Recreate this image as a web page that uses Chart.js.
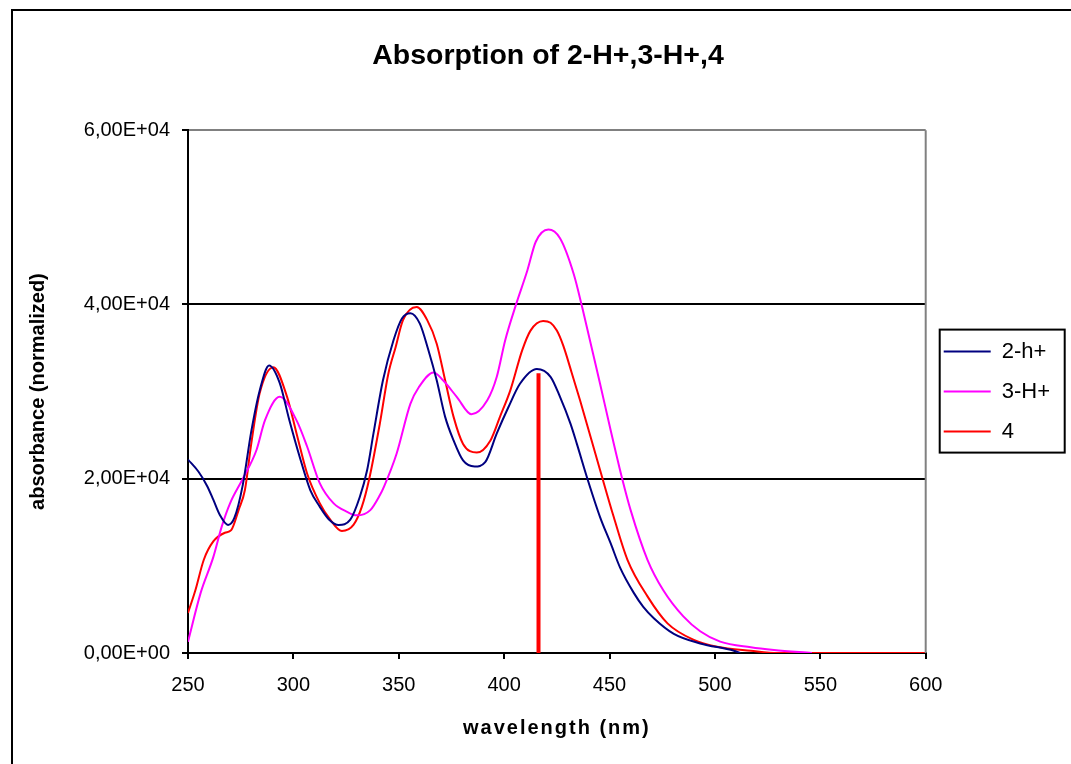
<!DOCTYPE html>
<html>
<head>
<meta charset="utf-8">
<script src="https://cdn.jsdelivr.net/npm/chart.js@4.4.1/dist/chart.umd.min.js"></script>
<style>
  html, body { margin: 0; padding: 0; background: #fff; }
  #wrap { width: 1071px; height: 764px; position: relative; }
</style>
</head>
<body>
<div id="wrap"><canvas id="absChart"></canvas></div>
<script>
// wavelength (nm) / absorbance
const wl2h = [250, 255, 259, 262, 265, 269, 272, 276, 280, 284,
  288.5, 293.5, 298, 303, 308, 312.5, 317, 321.5, 327, 331.5,
  335, 338, 342.5, 347.5, 351.5, 355.5, 360, 364, 368, 372,
  376, 380.5, 386, 391, 396.5, 402, 407.5, 415.5, 422, 426.5,
  431.5, 434.5, 439.5, 445.5, 450.5, 455, 461.5, 466, 471, 480.5,
  493, 509, 512];
const abs2h = [22200, 20800, 19200, 17600, 15900, 14700, 15500, 19300, 25400, 30100,
  33000, 31000, 26800, 22500, 18700, 16800, 15300, 14700, 15300, 17900,
  21000, 25200, 31300, 35900, 38400, 39000, 37800, 34800, 31300, 27100,
  24400, 22100, 21400, 21900, 25200, 28200, 30900, 32600, 31700, 29400,
  26300, 24000, 20000, 15600, 12600, 9800, 6900, 5300, 4000, 2200,
  1100, 260, 0];

const wl3h = [250, 256, 262, 266, 270, 276, 282.5, 286.5, 293.5, 301.5,
  306.5, 312.5, 319, 325.5, 330, 336.5, 341, 343, 349, 355.5,
  359.5, 366.5, 371, 377.5, 384.5, 392, 396.5, 400.5, 405.5, 411,
  415, 421, 426.5, 433, 437, 445.5, 450.5, 456, 460, 468,
  475.5, 485, 493, 502.5, 517, 528, 546];
const abs3h = [1300, 6900, 11000, 14500, 17200, 20000, 23300, 26700, 29400, 26700,
  23700, 19500, 17200, 16200, 15800, 16400, 18100, 19100, 22900, 28600,
  30500, 32200, 31300, 29400, 27400, 29000, 31700, 35900, 39900, 43900,
  47200, 48600, 47600, 43500, 39700, 30900, 25600, 20000, 16400, 10700,
  7200, 4200, 2500, 1300, 650, 340, 0];

const wl4 = [250, 253.5, 257.5, 262, 267.5, 270.5, 274, 277, 280, 284,
  290.5, 297, 301.5, 306.5, 312.5, 317.5, 323, 328.5, 332.5, 336,
  341, 345, 348.5, 352, 358.5, 363.5, 368, 372, 376, 380.5,
  387, 393.5, 398, 403, 408.5, 412.5, 418.5, 422, 425, 428,
  432, 436, 445.5, 452, 458.5, 468, 477.5, 490, 501, 517,
  530, 600];
const abs4 = [4600, 7200, 10700, 12800, 13800, 14100, 16400, 18700, 24000, 29800,
  32800, 29400, 25200, 20600, 17200, 15300, 14000, 14700, 16800, 20000,
  26300, 32000, 35100, 38200, 39700, 38200, 35500, 31300, 27100, 24000,
  23000, 24400, 27100, 30200, 34700, 37000, 38100, 37900, 37000, 35300,
  32200, 29000, 21000, 15600, 10700, 6500, 3400, 1500, 720, 260,
  0, 0];

// red marker line
const markWl = [416.3, 416.3];
const markAbs = [0, 32100];

const seriesNames = ["2-h+", "3-H+", "4"];
const yTickLabels = ["0,00E+00", "2,00E+04", "4,00E+04", "6,00E+04"];
const xTicks = [250, 300, 350, 400, 450, 500, 550, 600];

const FONT = "'Liberation Sans', Arial, sans-serif";
Chart.defaults.color = "#000";
Chart.defaults.font.family = FONT;

const toPts = (xs, ys) => xs.map((x, i) => ({ x: x, y: ys[i] }));

const frame = {
  id: "frame",
  beforeDraw(chart) {
    const c = chart.ctx;
    c.save();
    c.fillStyle = "#fff";
    c.fillRect(0, 0, chart.width, chart.height);
    c.strokeStyle = "#000";
    c.lineWidth = 2;
    c.strokeRect(12, 10, chart.width + 20, chart.height + 20);
    c.restore();
  },
  afterDraw(chart) {
    const c = chart.ctx;
    const a = chart.chartArea;
    c.save();
    c.strokeStyle = "#808080";
    c.lineWidth = 2;
    c.beginPath();
    c.moveTo(a.right, a.top);
    c.lineTo(a.right, a.bottom);
    c.stroke();
    // legend box
    const lg = chart.legend;
    const hb = lg.legendHitBoxes;
    if (hb && hb.length) {
      const top = hb[0].top - 11;
      const bottom = hb[hb.length - 1].top + 32;
      c.strokeStyle = "#000";
      c.strokeRect(lg.left + 14, top, 125, bottom - top);
    }
    c.restore();
  }
};

new Chart(document.getElementById("absChart"), {
  type: "line",
  data: {
    datasets: [
      { label: seriesNames[0], data: toPts(wl2h, abs2h), borderColor: "#000080", backgroundColor: "#000080" },
      { label: seriesNames[1], data: toPts(wl3h, abs3h), borderColor: "#FF00FF", backgroundColor: "#FF00FF" },
      { label: seriesNames[2], data: toPts(wl4, abs4), borderColor: "#FF0000", backgroundColor: "#FF0000" },
      { label: "marker", data: toPts(markWl, markAbs), borderColor: "#FF0000", backgroundColor: "#FF0000",
        borderWidth: 4, cubicInterpolationMode: "default", borderCapStyle: "butt" }
    ]
  },
  options: {
    responsive: true,
    maintainAspectRatio: false,
    animation: false,
    layout: { padding: { left: 36, right: 11, top: 10, bottom: 0 } },
    elements: {
      line: { borderWidth: 2, cubicInterpolationMode: "monotone", fill: false },
      point: { radius: 0, hoverRadius: 0 }
    },
    plugins: {
      tooltip: { enabled: false },
      title: {
        display: true,
        text: "Absorption of 2-H+,3-H+,4",
        color: "#000",
        font: { size: 28.5, weight: "bold" },
        padding: { top: 29, bottom: 57 }
      },
      legend: {
        display: true,
        position: "right",
        fullSize: false,
        labels: {
          font: { size: 22 },
          color: "#000",
          boxWidth: 47,
          boxHeight: 0,
          padding: 18,
          filter: (item) => item.text !== "marker"
        }
      }
    },
    scales: {
      x: {
        type: "linear",
        min: 250,
        max: 600,
        afterBuildTicks: (scale) => { scale.ticks = xTicks.map(v => ({ value: v })); },
        afterFit: (scale) => {
          scale.height = 111;
          if (!scale._spaced) {
            const orig = scale.drawTitle.bind(scale);
            scale.drawTitle = function () {
              const c = this.ctx;
              c.save();
              c.letterSpacing = "2px";
              orig();
              c.restore();
            };
            scale._spaced = true;
          }
        },
        border: { color: "#000", width: 2 },
        grid: { drawOnChartArea: false, drawTicks: true, tickLength: 6, color: "#000", lineWidth: 2 },
        ticks: { font: { size: 20 }, padding: 14, maxRotation: 0 },
        title: {
          display: true,
          text: "wavelength (nm)",
          font: { size: 20, weight: "bold" },
          padding: { top: 0, bottom: 24 }
        }
      },
      y: {
        min: 0,
        max: 60000,
        afterBuildTicks: (scale) => { scale.ticks = yTickLabels.map((t, i) => ({ value: i * 20000 })); },
        afterFit: (scale) => { scale.width = 152; },
        border: { color: "#000", width: 2 },
        grid: {
          tickLength: 6,
          tickColor: "#000",
          lineWidth: 2,
          color: (ctx) => (ctx.tick && ctx.tick.value === 60000 ? "#808080" : "#000")
        },
        ticks: {
          font: { size: 20 },
          padding: 12,
          callback: (v) => yTickLabels[Math.round(v / 20000)]
        },
        title: {
          display: true,
          text: "absorbance (normalized)",
          font: { size: 20, weight: "bold" },
          padding: { top: -10, bottom: 0 }
        }
      }
    }
  },
  plugins: [frame]
});
</script>
</body>
</html>
